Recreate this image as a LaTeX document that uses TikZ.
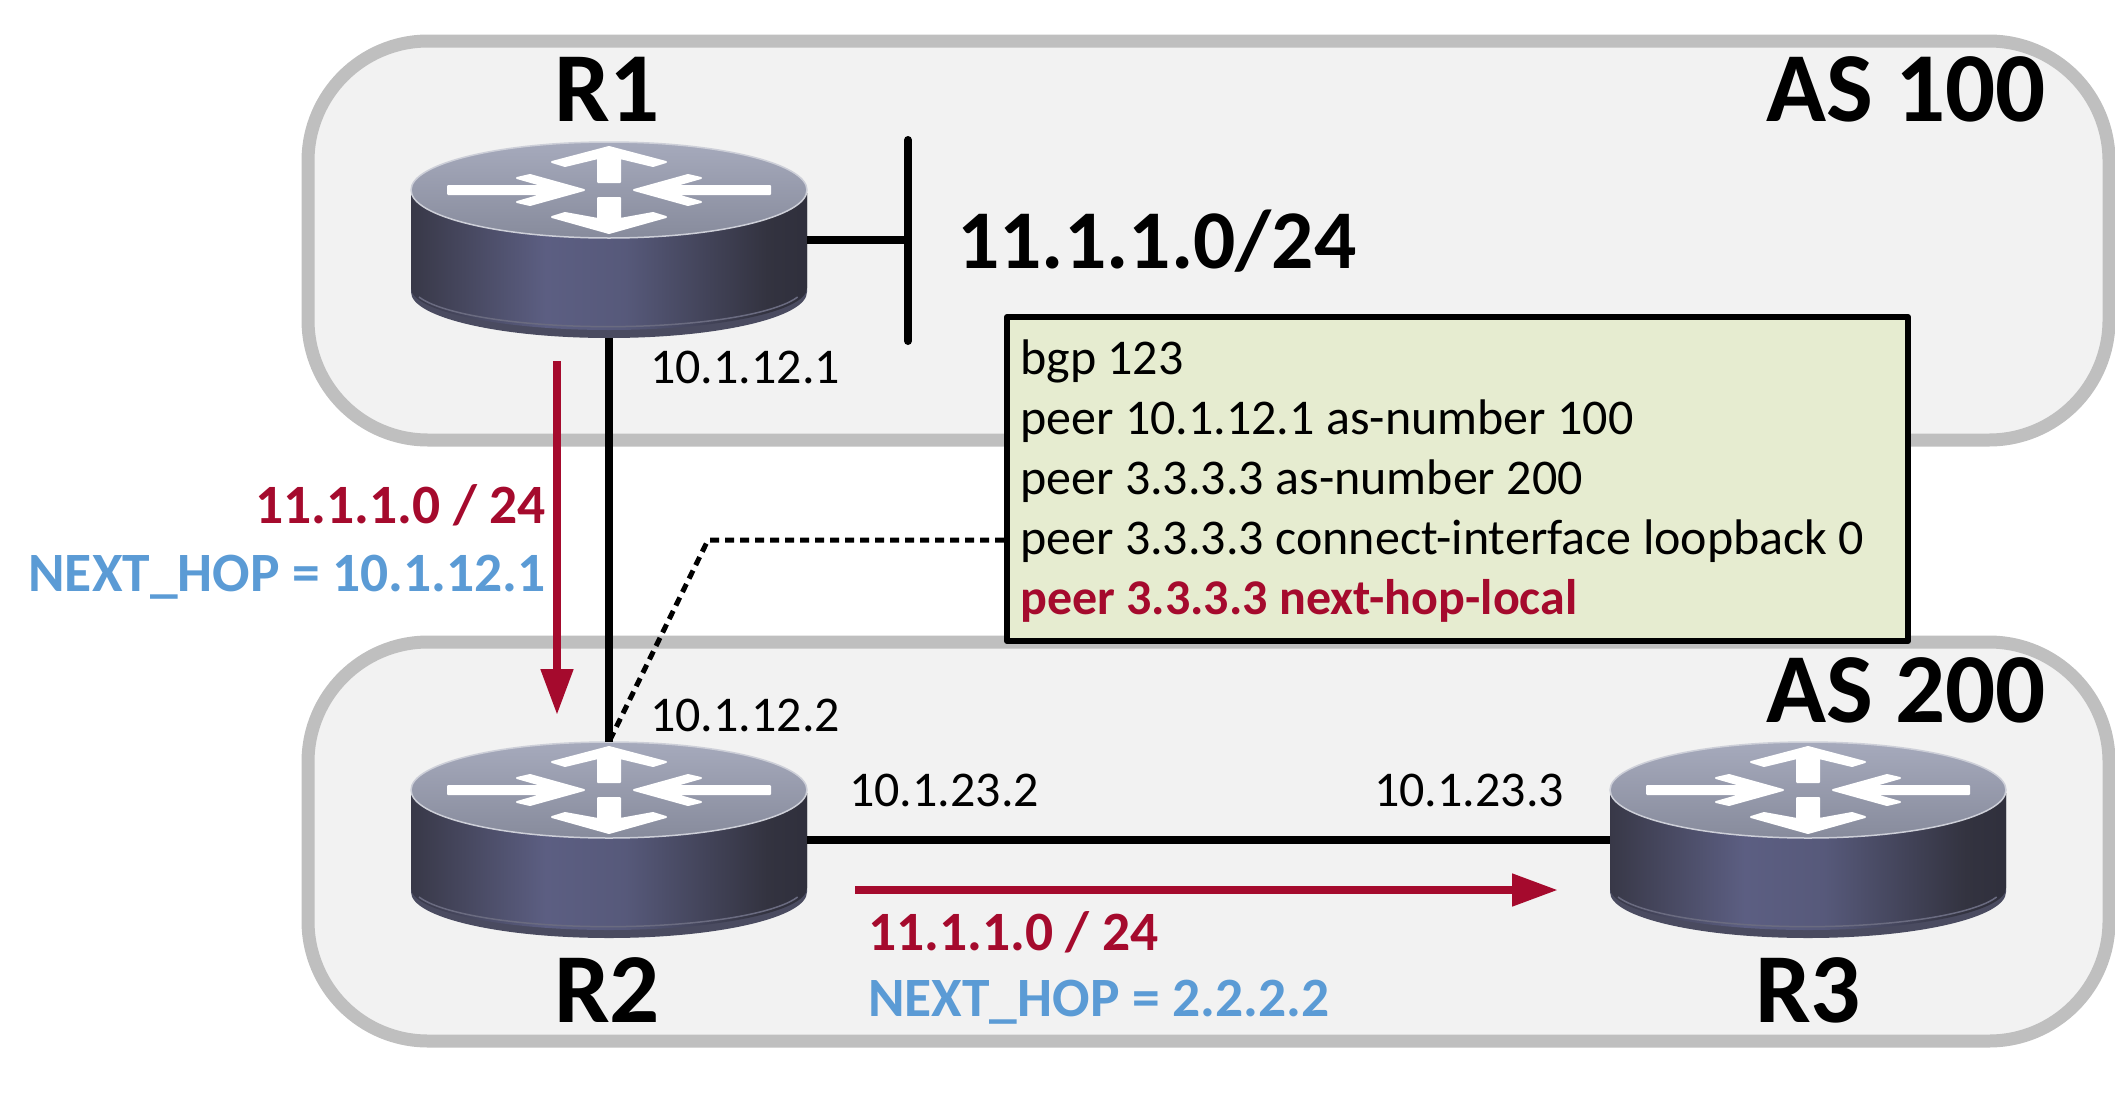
\documentclass[tikz,border=0pt]{standalone}
\usepackage{fontspec}
\setmainfont{Carlito}
\usetikzlibrary{arrows.meta}
\definecolor{asfill}{HTML}{F2F2F2}
\definecolor{asline}{HTML}{BFBFBF}
\definecolor{cfgfill}{HTML}{E6ECD0}
\definecolor{hopred}{HTML}{A50A2D}
\definecolor{hopblue}{HTML}{5B9BD5}
\definecolor{toplight}{HTML}{A6AABC}
\definecolor{topdark}{HTML}{878B9C}
\definecolor{toprim}{HTML}{CDCFD8}
\definecolor{lipdark}{HTML}{4A4B60}
\definecolor{liplight}{HTML}{6A6B80}
\pgfdeclarehorizontalshading{routerside}{100bp}{
	rgb(0bp)=(0.32,0.32,0.38);
	rgb(12bp)=(0.21,0.21,0.26);
	rgb(25bp)=(0.22,0.22,0.28);
	rgb(42bp)=(0.36,0.37,0.51);
	rgb(52bp)=(0.34,0.35,0.48);
	rgb(70bp)=(0.20,0.20,0.25);
	rgb(85bp)=(0.16,0.16,0.21);
	rgb(100bp)=(0.26,0.26,0.32)}
\tikzset{
	asframe/.style={draw=asline,line width=13pt,fill=asfill,rounded corners=120pt},
	bigtext/.style={font=\fontsize{99}{101}\selectfont\bfseries,inner sep=0pt,anchor=base},
	iptext/.style={font=\fontsize{50}{52}\selectfont,inner sep=0pt,anchor=base west},
	hoptext/.style={font=\fontsize{55.5}{58}\selectfont\bfseries,inner sep=0pt},
	link/.style={line width=8pt,black},
	hoparrow/.style={line width=8pt,hopred,-{Triangle[length=46pt,width=31pt]}},
	router/.pic={
		\fill[lipdark] (-198,3) -- (-198,102) arc[start angle=180,end angle=360,x radius=198pt,y radius=46pt] -- (198,3) -- cycle;
		\shade[shading=routerside] (-198,3) -- (-198,98) arc[start angle=180,end angle=360,x radius=198pt,y radius=42pt] -- (198,3) -- cycle;
		\draw[line width=1.5pt,liplight] (-190,107) arc[start angle=195,end angle=345,x radius=196pt,y radius=40pt];
		\shade[top color=toplight,bottom color=topdark,draw=toprim,line width=1.5pt] (0,0) ellipse[x radius=198pt,y radius=48pt];
		\foreach \s in {1,-1}{
			\begin{scope}[xscale=\s]
				\fill[white,draw=white,line width=2pt] (-161,-4) -- (-64,-4) -- (-92,-12) -- (-79,-15) -- (-25,0) -- (-79,15) -- (-92,12) -- (-64,4) -- (-161,4) -- cycle;
			\end{scope}
		}
		\fill[white,draw=white,line width=2pt] (0,-43) -- (57,-28) -- (44,-24) -- (11,-32) -- (11,-8) -- (-11,-8) -- (-11,-32) -- (-44,-24) -- (-57,-28) -- cycle;
		\fill[white,draw=white,line width=2pt] (0,43) -- (57,27) -- (44,23) -- (11,29) -- (11,8) -- (-11,8) -- (-11,29) -- (-44,23) -- (-57,27) -- cycle;
		\node[minimum width=396pt,minimum height=196pt,inner sep=0pt] (-box) at (0,50) {};
	}
}
\begin{document}
\begin{tikzpicture}[x=1pt,y=-1pt,line join=round,>=stealth]
	\useasboundingbox (0,0) rectangle (2115,1098);
	\draw[asframe] (308,41) rectangle (2109,440);%AS 100
	\draw[asframe] (308,642) rectangle (2109,1041);%AS 200
	\pic (r1) at (609,190) {router};
	\pic (r2) at (609,790) {router};
	\pic (r3) at (1808,790) {router};
	\coordinate (lan) at (908,240);
	\draw[link] (r1-box.east)--(lan);
	\draw[line width=8pt,line cap=round] (908,140)--(908,341);
	\draw[link] (r1-box.south)--(r2-box.north);
	\draw[link] (r2-box.east)--(r3-box.west);
	\node[draw=black,line width=6pt,fill=cfgfill,minimum width=901pt,minimum height=324pt,anchor=north west,inner sep=0pt] (cfg) at (1004,314) {};
	\node[font=\fontsize{50}{60}\selectfont,align=left,anchor=base west,inner sep=0pt] (cfgtext) at (1020,614) {bgp 123\\
		peer 10.1.12.1 as-number 100\\
		peer 3.3.3.3 as-number 200\\
		peer 3.3.3.3 connect-interface loopback 0\\
		\textcolor{hopred}{\bfseries peer 3.3.3.3 next-hop-local}};
	\coordinate (bend) at (708,540);
	\draw[line width=5pt,dash pattern=on 9pt off 6pt] (cfg.west |- bend)--(bend)--(r2-box.north);
	\coordinate (a1) at (557,361);
	\coordinate (a2) at (557,715);
	\coordinate (a3) at (855,890);
	\coordinate (a4) at (1558,890);
	\draw[hoparrow] (a1)--(a2);
	\draw[hoparrow] (a3)--(a4);
	\node[bigtext] (nr1) at (607,121) {R1};
	\node[bigtext] (nr2) at (607,1022) {R2};
	\node[bigtext] (nr3) at (1808,1022) {R3};
	\node[bigtext,anchor=base east] (as1) at (2046,121) {AS 100};
	\node[bigtext,anchor=base east] (as2) at (2046,722) {AS 200};
	\node[font=\fontsize{83.5}{85}\selectfont\bfseries,inner sep=0pt,anchor=base west] (net) at (957,268) {11.1.1.0/24};
	\node[iptext] (ip1) at (650,383) {10.1.12.1};
	\node[iptext] (ip2) at (650,731) {10.1.12.2};
	\node[iptext] (ip3) at (849,806) {10.1.23.2};
	\node[iptext] (ip4) at (1374,806) {10.1.23.3};
	\node[hoptext,anchor=base east,hopred] (h1) at (546,523) {11.1.1.0 / 24};
	\node[hoptext,anchor=base east,hopblue] (h2) at (546,591) {NEXT\_HOP = 10.1.12.1};
	\node[hoptext,anchor=base west,hopred] (h3) at (868,950) {11.1.1.0 / 24};
	\node[hoptext,anchor=base west,hopblue] (h4) at (868,1016) {NEXT\_HOP = 2.2.2.2};
\end{tikzpicture}
\end{document}
